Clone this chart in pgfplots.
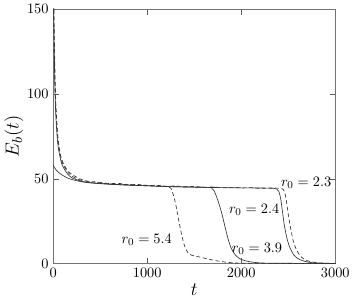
\documentclass[border=0pt]{standalone}
\usepackage{pgfplots}
\pgfplotsset{compat=1.18}

\begin{document}
\begin{tikzpicture}
\begin{axis}[
    scale only axis,
    width=215pt, height=194pt,
    xmin=0, xmax=3000, ymin=0, ymax=150,
    xtick={0,1000,2000,3000}, ytick={0,50,100,150},
    tick align=inside,
    axis line style={black!55},
    tick style={black!65},
    ticklabel style={font=\fontsize{11}{13}\selectfont},
    scaled x ticks=false,
    /pgf/number format/1000 sep={},
    xlabel={$t$}, ylabel={$E_b(t)$},
    xlabel style={font=\fontsize{15}{18}\selectfont, yshift=2pt},
    ylabel style={font=\fontsize{15}{18}\selectfont, yshift=-4pt},
    every axis plot/.append style={line width=0.5pt, black!80},
    clip=true,
]
% r0 = 5.4 (dashed)
\addplot[dashed, dash pattern=on 3pt off 2pt, smooth] coordinates {
 (5,165) (10,140) (20,110) (30,92) (45,78) (60,70) (80,63) (100,59) (130,56)
 (160,53.5) (200,51.5) (250,50) (300,49) (350,48.6) (400,47.9) (450,48.2)
 (500,47.3) (600,47.0) (700,46.5) (800,46.6) (900,45.9) (1000,46.2) (1100,45.5)
 (1150,45.9) (1200,45.3) (1250,44.5) (1280,40) (1310,33) (1340,24) (1370,16)
 (1400,10) (1440,5.8) (1500,4.5) (1560,3.8) (1650,2.6) (1750,1.5) (1850,0.7)
 (1950,0.3) (2100,0.1) (3000,0)
};
% r0 = 3.9 (solid)
\addplot[smooth] coordinates {
 (0,58) (20,56) (50,54) (100,52) (150,50.5) (200,49.5) (300,48.2) (400,47.5)
 (600,46.7) (800,46.2) (1000,45.8) (1200,45.4) (1400,45.1) (1600,44.9)
 (1680,44.7) (1710,43) (1740,39) (1770,34) (1800,28) (1830,21) (1860,14.5)
 (1890,9.5) (1930,5.5) (1980,3) (2050,1.5) (2150,0.6) (2300,0.2) (3000,0)
};
% r0 = 2.4 (solid)
\addplot[smooth] coordinates {
 (3,165) (10,130) (20,100) (30,85) (50,70) (80,61) (100,57.5) (150,53)
 (200,50.5) (300,48.5) (400,47.6) (600,46.8) (800,46.2) (1000,45.8) (1200,45.4)
 (1400,45.1) (1600,44.9) (1800,44.7) (2000,44.6) (2200,44.5) (2350,44.3)
 (2380,43.8) (2400,42.5) (2420,38) (2440,30) (2460,22) (2490,14) (2520,9)
 (2560,5) (2600,3) (2660,1.5) (2750,0.5) (2900,0.1) (3000,0)
};
% r0 = 2.3 (dashed)
\addplot[dashed, dash pattern=on 3pt off 2pt, smooth] coordinates {
 (2,165) (8,130) (15,110) (25,95) (40,80) (60,68) (100,60) (150,55) (200,52.5)
 (300,49.5) (400,48.2) (500,47.8) (600,47.1) (700,47.2) (800,46.4) (900,46.6)
 (1000,45.9) (1100,46.1) (1200,45.5) (1300,45.7) (1400,45.2) (1500,45.4)
 (1600,44.9) (1700,45.1) (1800,44.7) (1900,44.9) (2000,44.5) (2100,44.7)
 (2200,44.3) (2300,44.5) (2400,44.4) (2440,44) (2460,42.5) (2480,37) (2500,29)
 (2525,21) (2550,14) (2580,9) (2620,5) (2670,2.5) (2730,1.2) (2820,0.4)
 (2950,0.1) (3000,0)
};
\node[font=\fontsize{11}{13}\selectfont] at (axis cs:2690,47.5) {$r_0 = 2.3$};
\node[font=\fontsize{11}{13}\selectfont] at (axis cs:2137,31.4) {$r_0 = 2.4$};
\node[font=\fontsize{11}{13}\selectfont] at (axis cs:2168,8.7) {$r_0 = 3.9$};
\node[font=\fontsize{11}{13}\selectfont] at (axis cs:995,14) {$r_0 = 5.4$};
\end{axis}
\end{tikzpicture}
\end{document}
